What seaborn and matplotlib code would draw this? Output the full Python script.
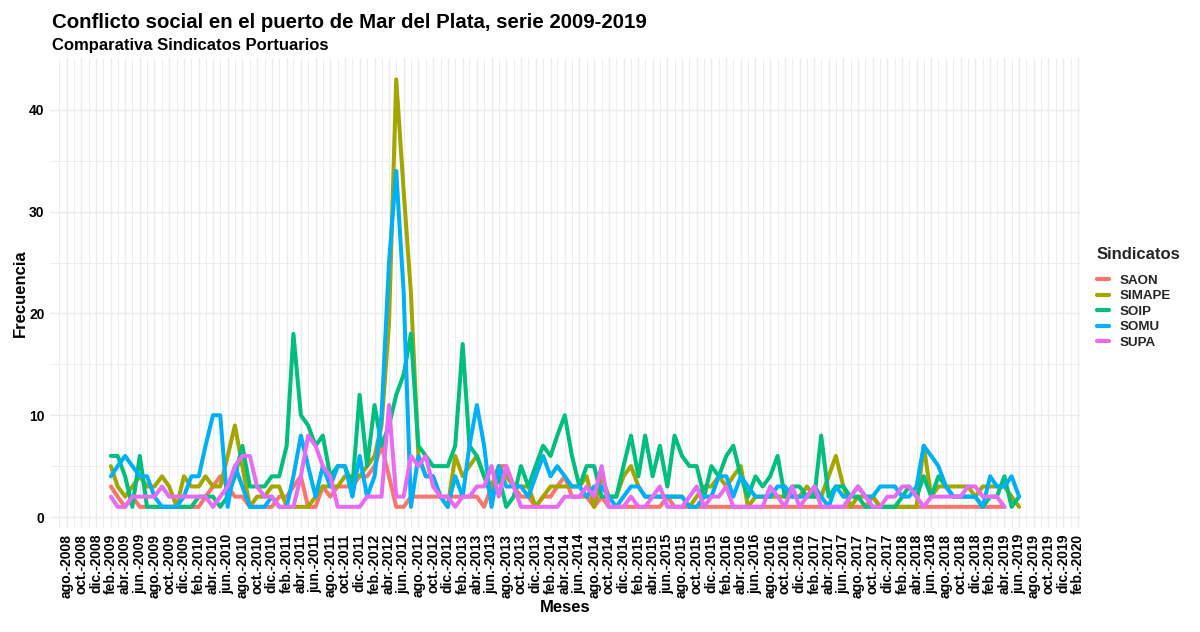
import matplotlib
matplotlib.use("Agg")
import numpy as np
import pandas as pd
import seaborn as sns
import matplotlib.pyplot as plt
from matplotlib.font_manager import FontProperties

# ---------------- data ----------------
START = "2009-02-01"
SINDICATOS = ["SAON", "SIMAPE", "SOIP", "SOMU", "SUPA"]
COLORES = ["#F8766D", "#A3A500", "#00BF7D", "#00B0F6", "#E76BF3"]
MESES_ABR = ["ene.", "feb.", "mar.", "abr.", "may.", "jun.",
             "jul.", "ago.", "sept.", "oct.", "nov.", "dic."]

SAON = [3, 2, 1, 2, 1, 1, 1, 1, 1, 1,
        1, 1, 1, 2, 3, 4, 3, 2, 2, 1,
        1, 1, 1, 2, 2, 3, 4, 1, 1, 3,
        2, 3, 3, 3, 4, 4, 5, 7, 4, 1,
        1, 2, 2, 2, 2, 2, 2, 2, 2, 2,
        2, 1, 3, 5, 5, 3, 2, 2, 1, 2,
        2, 3, 4, 2, 2, 2, 1, 2, 1, 1,
        1, 1, 1, 1, 1, 1, 2, 1, 1, 1,
        1, 1, 1, 1, 1, 1, 1, 1, 1, 1,
        1, 1, 1, 1, 1, 1, 1, 1, 1, 1,
        1, 1, 1, 1, 2, 1, 1, 1, 1, 1,
        1, 1, 1, 1, 1, 1, 1, 1, 1, 1,
        1, 1, 1]

SIMAPE = [5, 3, 2, 3, 4, 3, 3, 4, 3, 1,
          4, 3, 3, 4, 3, 3, 6, 9, 5, 1,
          2, 2, 3, 3, 1, 1, 1, 1, 2, 3,
          3, 3, 4, 4, 4, 5, 6, 9, 19, 43,
          32, 22, 6, 4, 4, 2, 1, 6, 4, 5,
          6, 4, 3, 5, 4, 3, 3, 3, 1, 2,
          3, 3, 3, 3, 3, 4, 1, 4, 2, 2,
          4, 5, 3, 2, 2, 2, 2, 2, 2, 1,
          2, 3, 3, 4, 3, 4, 5, 1, 2, 2,
          2, 2, 2, 2, 2, 3, 2, 2, 4, 6,
          3, 1, 2, 2, 2, 1, 1, 1, 1, 1,
          1, 7, 2, 3, 3, 3, 3, 3, 2, 3,
          3, 3, 3, 2, 1]

SOIP = [6, 6, 4, 1, 6, 1, 1, 1, 1, 1,
        1, 1, 2, 2, 2, 1, 2, 4, 7, 3,
        3, 3, 4, 4, 7, 18, 10, 9, 7, 8,
        4, 5, 5, 3, 12, 5, 11, 7, 9, 12,
        14, 18, 7, 6, 5, 5, 5, 7, 17, 7,
        6, 4, 2, 4, 1, 2, 5, 3, 5, 7,
        6, 8, 10, 6, 3, 5, 5, 2, 2, 2,
        5, 8, 4, 8, 4, 7, 3, 8, 6, 5,
        5, 2, 5, 4, 6, 7, 4, 2, 4, 3,
        4, 6, 2, 3, 3, 2, 2, 8, 2, 3,
        3, 2, 2, 1, 1, 1, 1, 1, 2, 3,
        2, 4, 2, 4, 3, 2, 2, 2, 2, 1,
        2, 2, 4, 1, 2]

SOMU = [4, 5, 6, 5, 4, 4, 2, 1, 1, 1,
        2, 4, 4, 7, 10, 10, 1, 5, 3, 1,
        1, 1, 2, 1, 1, 4, 8, 5, 2, 5,
        3, 5, 5, 2, 6, 2, 4, 10, 25, 34,
        22, 1, 6, 4, 4, 2, 1, 4, 2, 7,
        11, 7, 1, 5, 3, 3, 3, 2, 4, 6,
        4, 5, 4, 3, 3, 2, 3, 3, 2, 1,
        2, 3, 3, 2, 2, 2, 2, 2, 2, 1,
        1, 2, 2, 4, 4, 2, 4, 3, 2, 2,
        2, 3, 3, 2, 2, 2, 3, 2, 1, 3,
        2, 2, 3, 2, 2, 3, 3, 3, 2, 2,
        3, 7, 6, 5, 3, 2, 2, 2, 2, 1,
        4, 3, 3, 4, 2]

SUPA = [2, 1, 1, 2, 2, 2, 2, 3, 2, 2,
        2, 2, 2, 2, 1, 2, 3, 5, 6, 6,
        3, 2, 2, 1, 1, 1, 4, 8, 7, 5,
        4, 1, 1, 1, 1, 2, 2, 2, 11, 2,
        2, 6, 5, 6, 3, 2, 2, 1, 2, 2,
        3, 3, 5, 2, 5, 3, 1, 1, 1, 1,
        1, 1, 2, 2, 2, 3, 2, 5, 1, 1,
        1, 2, 1, 1, 2, 3, 1, 1, 1, 2,
        3, 1, 2, 2, 3, 1, 1, 1, 1, 1,
        3, 2, 1, 3, 1, 2, 3, 1, 1, 1,
        1, 2, 3, 2, 1, 1, 2, 2, 3, 3,
        2, 1, 2, 2, 2, 2, 2, 3, 3, 2,
        2, 2, 1]

SERIES = {"SAON": SAON, "SIMAPE": SIMAPE, "SOIP": SOIP, "SOMU": SOMU, "SUPA": SUPA}

TITULO = "Conflicto social en el puerto de Mar del Plata, serie 2009-2019"
SUBTITULO = "Comparativa Sindicatos Portuarios"

# ---------------- build table ----------------
frames = []
for name in SINDICATOS:
    vals = SERIES[name]
    fechas = pd.date_range(START, periods=len(vals), freq="MS")
    frames.append(pd.DataFrame({"Meses": fechas, "Frecuencia": vals, "Sindicatos": name}))
df = pd.concat(frames, ignore_index=True)

# ---------------- plot ----------------
sns.set_theme(style="white")
plt.rcParams["font.family"] = ["Liberation Sans", "DejaVu Sans"]

W, H = 1200, 632
fig = plt.figure(figsize=(W / 100, H / 100), dpi=100)
fig.patch.set_facecolor("white")
ax = fig.add_axes([50 / W, 1 - 528 / H, 1030 / W, 470 / H])
ax.set_facecolor("white")

sns.lineplot(data=df, x="Meses", y="Frecuencia", hue="Sindicatos",
             hue_order=SINDICATOS, palette=COLORES, linewidth=2.9,
             estimator=None, ax=ax)

ax.set_xlim(pd.Timestamp("2008-05-24"), pd.Timestamp("2020-02-09"))
ax.set_ylim(-1.08, 45.1)

major_x = pd.date_range("2008-08-01", "2020-02-01", freq="2MS")
major_set = set(major_x)
minor_x = [d for d in pd.date_range("2008-07-01", "2020-02-01", freq="MS") if d not in major_set]
ax.set_xticks(major_x)
ax.set_xticks(minor_x, minor=True)
ax.set_xticklabels([f"{MESES_ABR[d.month - 1]}-{d.year}" for d in major_x],
                   rotation=90, fontsize=10, fontweight="bold", color="black")
ax.set_yticks([0, 10, 20, 30, 40])
ax.set_yticks([5, 15, 25, 35], minor=True)
ax.set_yticklabels(["0", "10", "20", "30", "40"], fontsize=10, fontweight="bold", color="black")
ax.tick_params(axis="both", which="both", length=0)
ax.tick_params(axis="x", pad=4)
ax.tick_params(axis="y", pad=4)

ax.grid(which="major", color="#EBEBEB", linewidth=1.0)
ax.grid(which="minor", color="#EBEBEB", linewidth=0.6)
ax.set_axisbelow(True)
for s in ax.spines.values():
    s.set_visible(False)

ax.set_xlabel("Meses", fontsize=12, fontweight="bold", color="black")
ax.xaxis.set_label_coords(0.5, -(608 - 528) / 470)
ax.xaxis.label.set_va("center")
ax.set_ylabel("Frecuencia", fontsize=12, fontweight="bold", color="black")
ax.yaxis.set_label_coords((20 - 50) / 1030, 0.5)
ax.yaxis.label.set_va("center")

fig.text(52 / W, 1 - 28 / H, TITULO, fontsize=14.7, fontweight="bold", color="black", va="baseline")
fig.text(52 / W, 1 - 50 / H, SUBTITULO, fontsize=12, fontweight="bold", color="black", va="baseline")

handles, labels = ax.get_legend_handles_labels()
if ax.get_legend() is not None:
    ax.get_legend().remove()
leg = ax.legend(handles, labels, title="Sindicatos", loc="upper left",
                bbox_to_anchor=(1090 / W, 1 - 240 / H), bbox_transform=fig.transFigure,
                frameon=False, prop=FontProperties(family="Liberation Sans", weight="bold", size=9.6),
                title_fontproperties=FontProperties(family="Liberation Sans", weight="bold", size=12),
                handlelength=0.9, handletextpad=0.8, labelspacing=0.25, borderpad=0,
                alignment="left")
leg._legend_box.sep = 9
for h in leg.legend_handles:
    h.set_linewidth(3)

fig.savefig("out.png", dpi=100, facecolor="white")
